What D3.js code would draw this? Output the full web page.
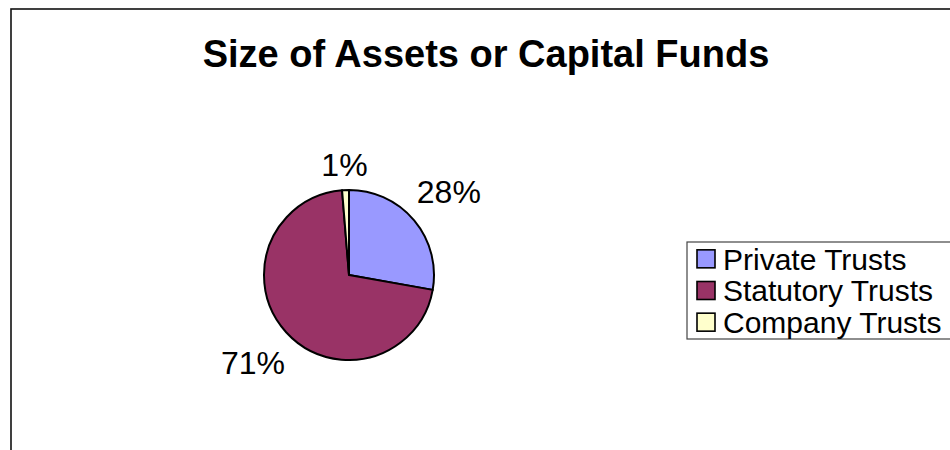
<!DOCTYPE html>
<html>
<head>
<meta charset="utf-8">
<script src="https://cdn.jsdelivr.net/npm/d3@7"></script>
<style>
  body { margin: 0; background: #fff; }
  svg { display: block; font-family: "Liberation Sans", Arial, sans-serif; }
</style>
</head>
<body>
<div id="vis"></div>
<script>
var width = 950;
var height = 450;

// data
var categories = ["Private Trusts", "Statutory Trusts", "Company Trusts"];
var shares = [27.8, 70.9, 1.3];
var colors = ["#9999FF", "#993366", "#FFFFCC"];
var title = "Size of Assets or Capital Funds";

var radius = 85;
var center = [349, 275];

var svg = d3.select('#vis')
    .append('svg')
    .attr('width', width)
    .attr('height', height);

// chart area border (runs off the right and bottom edge)
svg.append('rect')
    .attr('x', 11)
    .attr('y', 9)
    .attr('width', width + 20)
    .attr('height', height + 20)
    .attr('fill', '#fff')
    .attr('stroke', '#111')
    .attr('stroke-width', 1.6);

svg.append('text')
    .attr('x', 486)
    .attr('y', 67)
    .attr('text-anchor', 'middle')
    .attr('font-size', 38)
    .attr('font-weight', 'bold')
    .text(title);

var data = categories.map(function (c, i) {
    return { name: c, value: shares[i], color: colors[i] };
});

var pie = d3.pie()
    .sort(null)
    .value(function (d) { return d.value; });

var arc = d3.arc().innerRadius(0).outerRadius(radius);

var g = svg.append('g')
    .attr('transform', 'translate(' + center[0] + ',' + center[1] + ')');

var arcs = pie(data);

g.selectAll('path')
    .data(arcs)
    .enter().append('path')
    .attr('d', arc)
    .attr('fill', function (d) { return d.data.color; })
    .attr('stroke', '#000')
    .attr('stroke-width', 2)
    .attr('stroke-linejoin', 'round');

// percent labels sit just outside the pie, pushed out by their own box size
var labels = g.selectAll('text.pct')
    .data(arcs)
    .enter().append('text')
    .attr('class', 'pct')
    .attr('text-anchor', 'middle')
    .attr('dy', '0.36em')
    .attr('font-size', 32)
    .text(function (d) { return Math.round(d.data.value) + '%'; });

labels.each(function (d) {
    var box = this.getBBox();
    var a = (d.startAngle + d.endAngle) / 2;
    var r = radius + 13 + Math.abs(Math.sin(a)) * box.width / 2 + Math.abs(Math.cos(a)) * 12;
    d3.select(this)
        .attr('x', Math.sin(a) * r)
        .attr('y', -Math.cos(a) * r);
});

// legend
var legend = svg.append('g')
    .attr('transform', 'translate(687,242)');

legend.append('rect')
    .attr('x', 0)
    .attr('y', 0)
    .attr('width', 300)
    .attr('height', 97)
    .attr('fill', '#fff')
    .attr('stroke', '#444')
    .attr('stroke-width', 1.2);

var rowY = d3.scaleBand()
    .domain(categories)
    .range([1, 96]);

var items = legend.selectAll('g.item')
    .data(data)
    .enter().append('g')
    .attr('class', 'item')
    .attr('transform', function (d) {
        return 'translate(0,' + (rowY(d.name) + rowY.bandwidth() / 2) + ')';
    });

items.append('rect')
    .attr('x', 10)
    .attr('y', -9)
    .attr('width', 18)
    .attr('height', 18)
    .attr('fill', function (d) { return d.color; })
    .attr('stroke', '#000')
    .attr('stroke-width', 1.6);

items.append('text')
    .attr('x', 36)
    .attr('dy', '0.36em')
    .attr('font-size', 30)
    .text(function (d) { return d.name; });
</script>
</body>
</html>
